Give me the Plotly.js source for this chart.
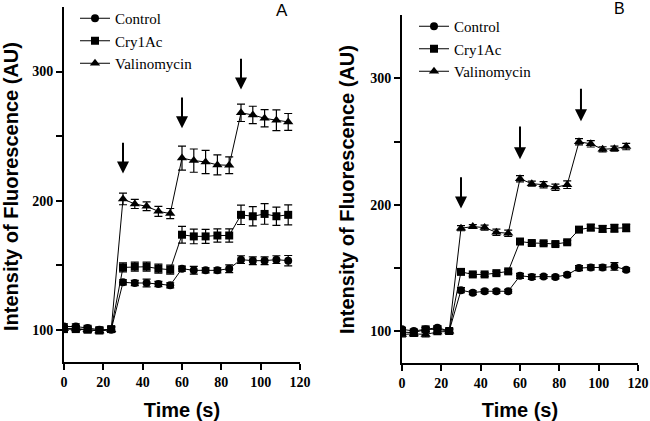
<!DOCTYPE html>
<html>
<head>
<meta charset="utf-8">
<script src="https://cdn.plot.ly/plotly-3.0.1.min.js"></script>
<style>html,body{margin:0;padding:0;background:#fff}#chart{width:650px;height:421px}</style>
</head>
<body>
<div id="chart"></div>
<script>
// ---- data ----
const timeS = [0,6,12,18,24,30,36,42,48,54,60,66,72,78,84,90,96,102,108,114];

// Panel A
const controlA = [102.5,102.5,101.3,100,100, 136.7,136.2,136.2,135.4,134.4, 147.3,146,146,146,147.3, 154.3,153.5,153.5,154.3,153.5];
const controlAErr = [2,2,2,2,2, 2,2,3,2,2, 2,3,2,2,3, 3,3,3,3,4];
const cry1AcA = [100.5,100.5,100,99.5,100.5, 148.3,148.8,148.8,147.3,146.5, 173.6,172.3,172.3,173,173, 189,187.9,189.7,187.9,189];
const cry1AcAErr = [2,2,2,2,2, 3.5,3.5,3.5,3.5,3.5, 6.5,5.7,5.4,5.2,5.2, 7.5,7.5,8,7,7.7];
const valinoA = [101,101,100,99,100, 201.3,197.4,195.6,191.7,190, 233,231,230,227.7,227.4, 268,266.4,263.8,262.3,261];
const valinoAErr = [2,2,2,2,2, 4.5,3.5,3.4,3.9,3.9, 9.3,9,9,7.8,6.5, 6.7,6.7,6.7,8,6.5];

// Panel B
const controlB = [101.6,100.3,101.6,102.9,100.3, 132.5,130.6,131.7,131.7,131.7, 143.9,143,143.4,143,144.7, 150,150.5,150.5,151.3,148.7];
const controlBErr = [1.5,1.5,1.5,1.5,1.5, 2,1.5,1.5,1.5,1.5, 2,2,1.5,1.5,1.5, 2,2,2,3,1.5];
const cry1AcB = [99.5,98.9,101.6,101.6,100.3, 147,145,145,146,147.4, 171,169.8,169.6,169,170.4, 180.4,182,181,181.5,181.8];
const cry1AcBErr = [1.5,1.5,1.5,1.5,1.5, 2,1.5,1.5,1.5,1.5, 1.5,1.5,1.5,1.5,1.5, 2,2.5,2.5,3,3];
const valinoB = [97.6,98,97.6,99.5,100, 181.5,182.8,182,178.3,177.5, 220.6,216.7,215.9,213.8,215.9, 249.8,248.2,243.9,244.4,246];
const valinoBErr = [2,2,2,2,2, 2,1.5,2,2.5,2.5, 2.5,2,2.5,2.5,3, 2.5,2.5,2,2,2.5];

const seriesNames = ["Control","Cry1Ac","Valinomycin"];
const yTitle = "Intensity of Fluorescence (AU)";
const xTitle = "Time (s)";

// arrows (time, tail value, tip value)
const arrowTimeA = [30,60,90];
const arrowTailA = [246,281,311];
const arrowTipA = [221,256,286];
const arrowTimeB = [30,60,91];
const arrowTailB = [223,263,293];
const arrowTipB = [197,236,266];

const yTickVals = [100,200,300];
const yMinorVals = [150,250];
const xTickVals = [0,20,40,60,80,100,120];

// ---- drawing ----
const SERIF = "Liberation Serif";
const SANS = "Liberation Sans";
const symbols = ["circle","square","triangle-up"];
const sizes = [8,8,9];
function tr(name, i, y, err, xa, ya, lg){
  return {
    x: timeS, y: y, name: name, type: "scatter", mode: "lines+markers",
    xaxis: xa, yaxis: ya, legend: lg,
    line: {color: "#000", width: 1},
    marker: {symbol: symbols[i], size: sizes[i], color: "#000"},
    error_y: {type: "data", array: err, visible: true, color: "#000", thickness: 1.2, width: 4}
  };
}
const data = [
  tr(seriesNames[0],0,controlA,controlAErr,"x","y","legend"),
  tr(seriesNames[1],1,cry1AcA,cry1AcAErr,"x","y","legend"),
  tr(seriesNames[2],2,valinoA,valinoAErr,"x","y","legend"),
  tr(seriesNames[0],0,controlB,controlBErr,"x2","y2","legend2"),
  tr(seriesNames[1],1,cry1AcB,cry1AcBErr,"x2","y2","legend2"),
  tr(seriesNames[2],2,valinoB,valinoBErr,"x2","y2","legend2")
];

function tickFont(){ return {family: SERIF, size: 14, color: "#000", weight: "bold"}; }
function titleFont(){ return {family: SANS, size: 20, color: "#000", weight: "bold"}; }
function xax(dom, anchor){
  return {domain: dom, anchor: anchor, range: [0,120], tickvals: xTickVals,
    showline: true, linewidth: 2, linecolor: "#000", ticks: "outside", ticklen: 6, tickwidth: 2, tickcolor: "#000",
    showgrid: false, zeroline: false, tickfont: tickFont(),
    title: {text: xTitle, font: titleFont(), standoff: 16}};
}
function yax(dom, anchor){
  return {domain: dom, anchor: anchor, range: [75,350], tickvals: yTickVals,
    minor: {tickvals: yMinorVals, ticks: "outside", ticklen: 6, tickwidth: 2, tickcolor: "#000", showgrid: false},
    showline: true, linewidth: 2, linecolor: "#000", ticks: "outside", ticklen: 6, tickwidth: 2, tickcolor: "#000",
    showgrid: false, zeroline: false, tickfont: tickFont()};
}

const annotations = [];
function addArrows(ts, tails, tips, xr, yr){
  for (let i = 0; i < ts.length; i++){
    annotations.push({x: ts[i], y: tips[i], ax: ts[i], ay: tails[i], xref: xr, yref: yr, axref: xr, ayref: yr,
      text: "", showarrow: true, arrowhead: 2, arrowsize: 1.2, arrowwidth: 2, arrowcolor: "#000"});
  }
}
addArrows(arrowTimeA, arrowTailA, arrowTipA, "x", "y");
addArrows(arrowTimeB, arrowTailB, arrowTipB, "x2", "y2");
// y-axis titles
annotations.push({text: yTitle, textangle: -90, xref: "paper", yref: "paper", x: 11/650, y: 1-187/421,
  showarrow: false, font: titleFont(), xanchor: "center", yanchor: "middle"});
annotations.push({text: yTitle, textangle: -90, xref: "paper", yref: "paper", x: 347/650, y: 1-190/421,
  showarrow: false, font: titleFont(), xanchor: "center", yanchor: "middle"});
// panel letters
annotations.push({text: "A", xref: "paper", yref: "paper", x: 282/650, y: 1-11/421, showarrow: false,
  font: {family: SANS, size: 17, color: "#000"}, xanchor: "center", yanchor: "middle"});
annotations.push({text: "B", xref: "paper", yref: "paper", x: 619/650, y: 1-9/421, showarrow: false,
  font: {family: SANS, size: 16, color: "#000"}, xanchor: "center", yanchor: "middle"});

const layout = {
  width: 650, height: 421, margin: {l: 0, r: 0, t: 0, b: 0},
  paper_bgcolor: "#fff", plot_bgcolor: "rgba(0,0,0,0)",
  xaxis: xax([64/650, 300/650], "y"),
  yaxis: yax([1-362/421, 1-7/421], "x"),
  xaxis2: xax([402/650, 638/650], "y2"),
  yaxis2: yax([1-363/421, 1-15/421], "x2"),
  legend: {x: 75/650, y: 1-2/421, xanchor: "left", yanchor: "top", font: {family: SERIF, size: 15, color: "#000"}, bgcolor: "rgba(0,0,0,0)", tracegroupgap: 0},
  legend2: {x: 414/650, y: 1-10/421, xanchor: "left", yanchor: "top", font: {family: SERIF, size: 15, color: "#000"}, bgcolor: "rgba(0,0,0,0)", tracegroupgap: 0},
  showlegend: true,
  annotations: annotations
};
Plotly.newPlot("chart", data, layout, {displayModeBar: false, staticPlot: true});
</script>
</body>
</html>
